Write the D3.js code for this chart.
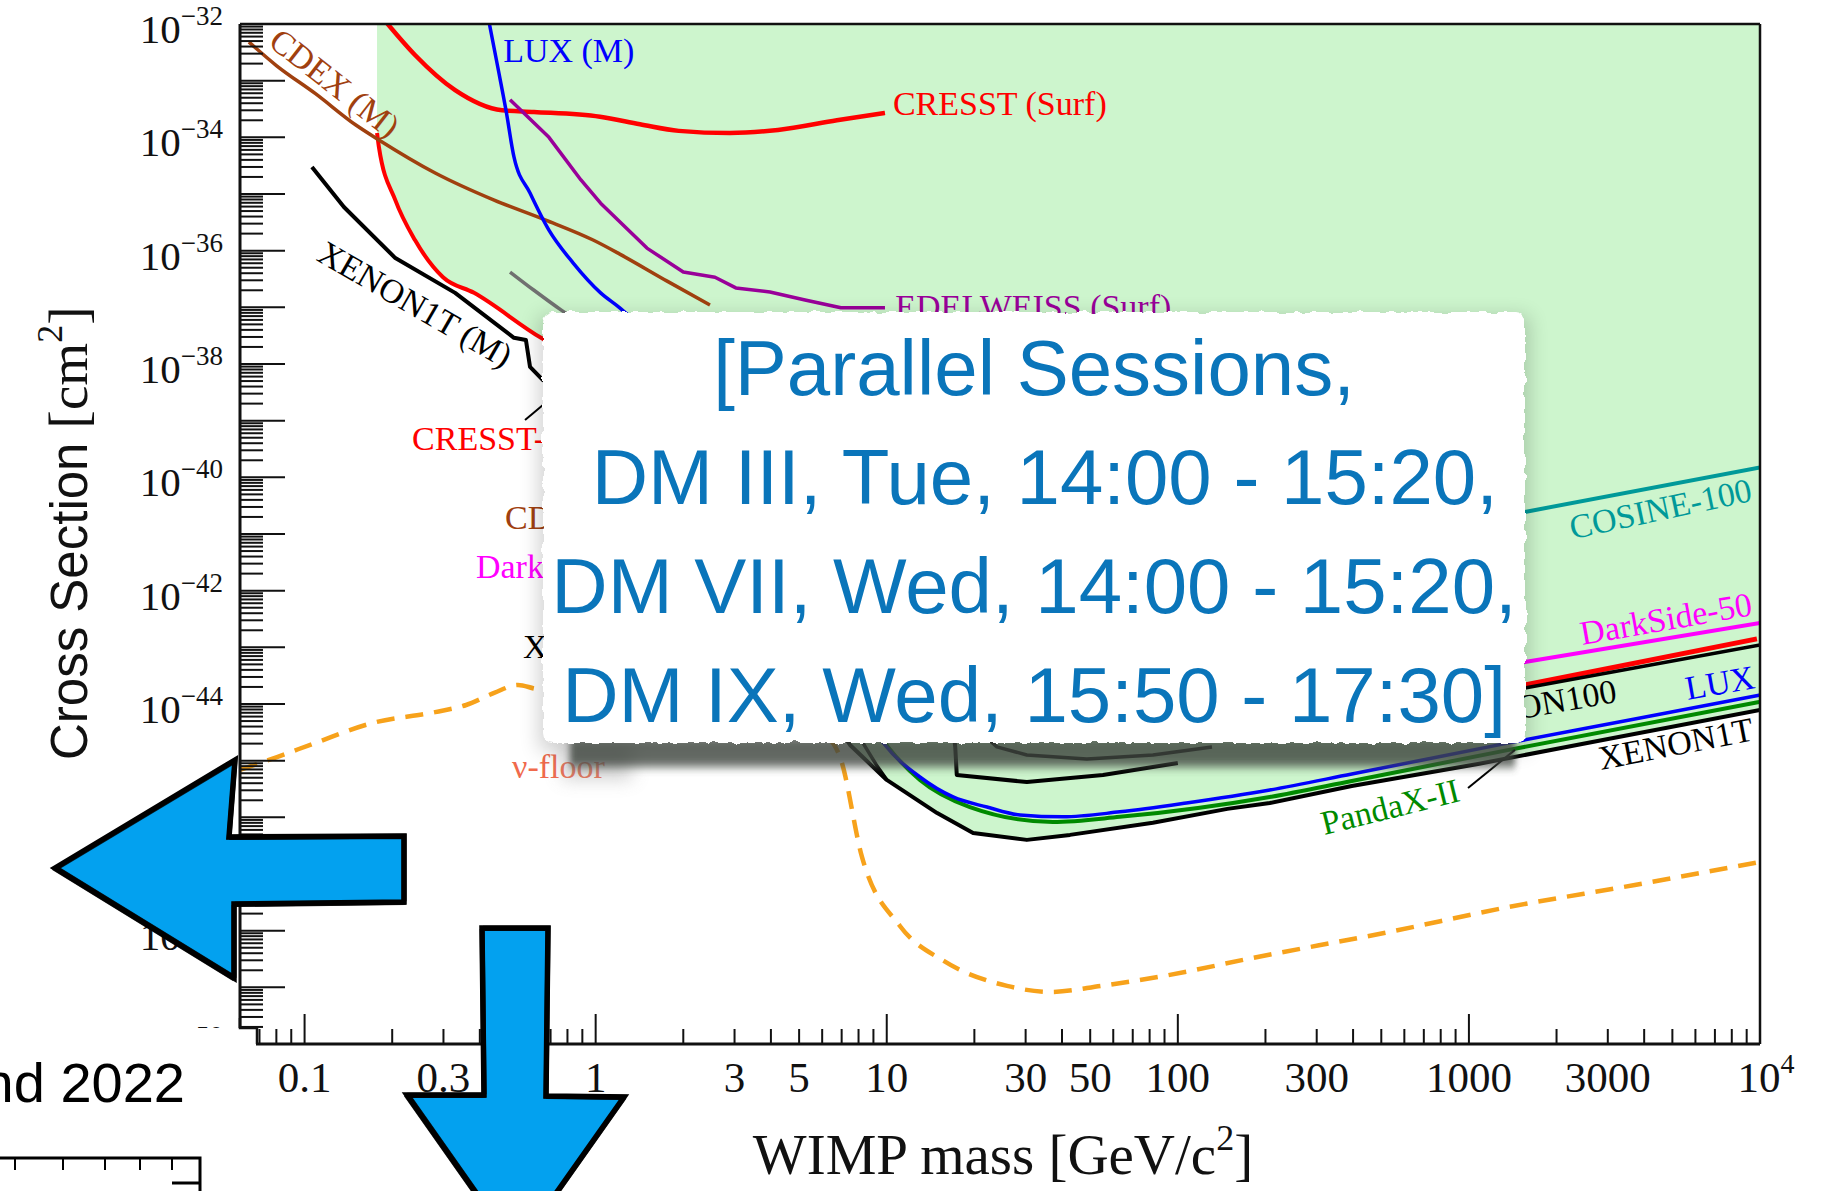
<!DOCTYPE html>
<html>
<head>
<meta charset="utf-8">
<script src="https://cdn.jsdelivr.net/npm/d3@7"></script>
<style>
  html, body { margin: 0; padding: 0; background: #fff; }
  svg { display: block; }
</style>
</head>
<body>
<div id="chart"></div>
<script>
// limits: [WIMP mass GeV/c^2, cross section cm^2]
var cdexM = [[0.0644,4.8e-33],[0.080,1.85e-33],[0.109,5.9e-34],[0.150,1.65e-34],[0.180,9.0e-35],[0.281,2.35e-35],[0.448,7.8e-36],[0.670,3.5e-36],[0.98,1.54e-36],[1.21,8.7e-37],[1.76,2.9e-37],[2.47,1.1e-37]];
var xenon1tM = [[0.106,3.0e-35],[0.1365,5.9e-36],[0.205,7.4e-37],[0.329,1.8e-37],[0.524,2.9e-38],[0.576,2.65e-38],[0.595,8.9e-39],[0.659,5.2e-39],[0.8,3e-39]];
var cresst3 = [[0.1774,1.19e-34],[0.180,6.8e-35],[0.205,7.8e-36],[0.2395,1.54e-36],[0.299,3.4e-37],[0.382,1.8e-37],[0.649,2.9e-38],[0.8,1.6e-38]];
var cresstSurf = [[0.19,1.1e-32],[0.2395,2.84e-33],[0.329,6.8e-34],[0.477,3.0e-34],[0.614,2.8e-34],[1.035,2.3e-34],[1.42,1.7e-34],[1.93,1.3e-34],[2.89,1.19e-34],[4.23,1.35e-34],[6.74,2.0e-34],[9.86,2.7e-34]];
var luxM = [[0.43,1.1e-32],[0.461,1.74e-33],[0.492,3.0e-34],[0.524,4.5e-35],[0.595,1.04e-35],[0.691,2.3e-36],[0.836,6.1e-37],[1.04,1.8e-37],[1.21,9.8e-38],[1.4,5e-38]];
var grayLimit = [[0.508,4.2e-37],[0.614,2.0e-37],[0.76,9.0e-38],[0.9,5e-38]];
var edelweissSurf = [[0.508,4.6e-34],[0.691,1.0e-34],[0.890,1.77e-35],[1.04,6.9e-36],[1.50,1.11e-36],[2.0,4.2e-37],[2.57,3.4e-37],[3.03,2.2e-37],[3.97,1.87e-37],[5.24,1.35e-37],[6.96,9.8e-38],[9.86,9.8e-38]];
var cosine100 = [[1000,1.6e-41],[1557,2.45e-41],[10000,1.5e-40]];
var darkside50 = [[1000,3.8e-44],[1557,5.5e-44],[10000,2.7e-43]];
var redLimit = [[1000,1.38e-44],[1557,2.17e-44],[9760,1.41e-43]];
var xenon100 = [[1000,1.27e-44],[1557,1.92e-44],[10000,1.1e-43]];
var lzA = [[17.0,3e-45],[17.2,1.67e-45],[17.4,5.6e-46],[30.3,4.2e-46],[55.3,5.6e-46],[100,9.1e-46]];
var lzB = [[20,4e-45],[23.9,1.75e-45],[30.3,1.26e-45],[48.7,1.07e-45],[82.1,1.26e-45],[131,1.75e-45]];
var xenon1tB = [[7.0,8e-45],[8.28,2.06e-45],[9.2,8.5e-46],[10.0,4.6e-46]];
var xenon1t = [[6,1e-44],[7.48,1.89e-45],[10.0,4.57e-46],[14.9,1.19e-46],[19.8,5.3e-47],[30.3,4.0e-47],[42.6,4.9e-47],[82.1,8.0e-47],[148,1.41e-46],[207,1.79e-46],[396,3.58e-46],[1074,8.75e-46],[2884,2.32e-45],[10000,7.85e-45]];
var pandax2 = [[8.2,9e-45],[10.1,1.75e-45],[13.0,4.57e-46],[19.3,1.52e-46],[37.2,8.3e-47],[63.2,1.02e-46],[207,2.29e-46],[396,4.39e-46],[1371,1.55e-45],[10000,1.09e-44]];
var lux = [[8,1e-44],[9.86,1.89e-45],[13.0,5.15e-46],[16.9,2.29e-46],[22.1,1.52e-46],[28.7,1.10e-46],[40.3,1.02e-46],[63.2,1.25e-46],[107,1.79e-46],[207,3.04e-46],[396,5.82e-46],[1371,2.06e-45],[3715,5.45e-45],[10000,1.44e-44]];
var nuFloor = [[0.06,6.9e-46],[0.0804,1.16e-45],[0.109,2.06e-45],[0.1706,4.6e-45],[0.281,7.2e-45],[0.359,9.6e-45],[0.448,1.57e-44],[0.541,2.17e-44],[0.624,1.85e-44],[2.0,1.2e-44],[6.0,3e-45],[6.91,1.16e-45],[8.22,2.0e-47],[11.1,1.21e-48],[15.7,2.92e-49],[25.9,1.06e-49],[36.6,8.3e-50],[54.4,1.06e-49],[89.6,1.59e-49],[188,3.44e-49],[511,9.1e-49],[1371,2.62e-48],[3715,6.4e-48],[10000,1.63e-47]];

var xTickLabels = [0.1, 0.3, 0.5, 1, 3, 5, 10, 30, 50, 100, 300, 1000, 3000, 10000];
var yLabelExps = [-32, -34, -36, -38, -40, -42, -44, -46, -48, -50];
var sessionLines = ['[Parallel Sessions,', ' DM III, Tue, 14:00 - 15:20,', 'DM VII, Wed, 14:00 - 15:20,', 'DM IX, Wed, 15:50 - 17:30]'];

var COL = {red: '#ff0000', blue: '#0000ff', brown: '#a0400f', purple: '#990099', gray: '#707070',
    black: '#000', teal: '#009999', magenta: '#ff00ff', green: '#008a00', orange: '#f7a21b',
    coral: '#f06a4c', fill: '#cdf5cd', slide: '#0a75ba', arrow: '#03a1ef'};

var W = 1834, H = 1191;
var margin = {top: 24, right: 74, bottom: 147, left: 240};
var plotW = W - margin.left - margin.right,
    plotH = H - margin.top - margin.bottom;

var x = d3.scaleLog().domain([0.06, 1e4]).range([margin.left, margin.left + plotW]);
var y = d3.scaleLog().domain([1e-50, 1e-32]).range([margin.top + plotH, margin.top]);

var svg = d3.select('#chart').append('svg').attr('width', W).attr('height', H);
var defs = svg.append('defs');
defs.append('clipPath').attr('id', 'plotClip').append('rect')
    .attr('x', margin.left).attr('y', margin.top).attr('width', plotW).attr('height', plotH);
var torn = defs.append('filter').attr('id', 'torn').attr('x', '-3%').attr('y', '-5%').attr('width', '106%').attr('height', '110%');
torn.append('feTurbulence').attr('type', 'fractalNoise').attr('baseFrequency', '0.09').attr('numOctaves', 2).attr('seed', 4).attr('result', 'n');
torn.append('feDisplacementMap').attr('in', 'SourceGraphic').attr('in2', 'n').attr('scale', 7)
    .attr('xChannelSelector', 'R').attr('yChannelSelector', 'G');
defs.append('filter').attr('id', 'soft').attr('x', '-20%').attr('y', '-20%').attr('width', '140%').attr('height', '140%')
    .append('feGaussianBlur').attr('stdDeviation', 10);
defs.append('filter').attr('id', 'band').attr('x', '-10%').attr('y', '-100%').attr('width', '120%').attr('height', '300%')
    .append('feGaussianBlur').attr('stdDeviation', '3 5');
defs.append('filter').attr('id', 'wide').attr('x', '-50%').attr('y', '-50%').attr('width', '200%').attr('height', '200%')
    .append('feGaussianBlur').attr('stdDeviation', 9);

function pt(d) { return [x(d[0]), y(d[1])]; }
var smoothLine = d3.line().curve(d3.curveMonotoneX);
var straightLine = d3.line();

var plot = svg.append('g').attr('clip-path', 'url(#plotClip)');

// excluded region
var redPath = smoothLine(cresst3.map(pt)).replace(/^M/, 'L');
var xePath = straightLine(xenon1t.map(pt)).replace(/^M/, 'L');
plot.append('path')
    .attr('d', 'M' + x(cresst3[0][0]) + ',' + y(1e-32) + redPath + xePath +
        'L' + x(1e4) + ',' + y(1e-32) + 'Z')
    .attr('fill', COL.fill);

var series = [
    {data: cresst3, color: COL.red, w: 4, smooth: true},
    {data: cresstSurf, color: COL.red, w: 4.5, smooth: true},
    {data: cdexM, color: COL.brown, w: 3.5, smooth: true},
    {data: luxM, color: COL.blue, w: 3.5, smooth: true},
    {data: grayLimit, color: COL.gray, w: 3.5, smooth: true},
    {data: edelweissSurf, color: COL.purple, w: 3.5, smooth: false},
    {data: xenon1tM, color: COL.black, w: 4, smooth: false},
    {data: cosine100, color: COL.teal, w: 4, smooth: false},
    {data: darkside50, color: COL.magenta, w: 4, smooth: false},
    {data: redLimit, color: COL.red, w: 5, smooth: false},
    {data: xenon100, color: COL.black, w: 3.5, smooth: false},
    {data: lzA, color: COL.black, w: 4, smooth: false},
    {data: lzB, color: COL.black, w: 3.5, smooth: false},
    {data: xenon1tB, color: COL.black, w: 3.5, smooth: false},
    {data: xenon1t, color: COL.black, w: 4, smooth: false},
    {data: pandax2, color: COL.green, w: 4, smooth: true},
    {data: lux, color: COL.blue, w: 3.5, smooth: true},
    {data: nuFloor, color: COL.orange, w: 4.5, smooth: true, dash: '18,11'}
];

plot.selectAll('path.limit').data(series).join('path')
    .attr('class', 'limit')
    .attr('d', function (s) { return (s.smooth ? smoothLine : straightLine)(s.data.map(pt)); })
    .attr('fill', 'none')
    .attr('stroke', function (s) { return s.color; })
    .attr('stroke-width', function (s) { return s.w; })
    .attr('stroke-dasharray', function (s) { return s.dash || null; })
    .attr('stroke-linejoin', 'round');

var leaders = [[[0.572, 1.03e-39], [0.659, 1.89e-39]], [[993, 3.3e-46], [1439, 1.55e-45]]];
plot.selectAll('path.leader').data(leaders).join('path')
    .attr('class', 'leader')
    .attr('d', function (d) { return straightLine(d.map(pt)); })
    .attr('stroke', '#000').attr('stroke-width', 2);

var curveLabels = [
    {text: 'CDEX (M)', m: 0.120, s: 6.3e-34, rot: 38, anchor: 'middle', color: COL.brown},
    {text: 'XENON1T (M)', m: 0.229, s: 7.6e-38, rot: 30, anchor: 'middle', color: COL.black},
    {text: 'LUX (M)', m: 0.481, s: 2.13e-33, rot: 0, anchor: 'start', color: COL.blue},
    {text: 'CRESST (Surf)', m: 10.5, s: 2.48e-34, rot: 0, anchor: 'start', color: COL.red},
    {text: 'EDELWEISS (Surf)', m: 10.7, s: 6.5e-38, rot: 0, anchor: 'start', color: COL.purple},
    {text: 'CRESST-III', m: 0.234, s: 3.0e-40, rot: 0, anchor: 'start', color: COL.red},
    {text: 'CDEX-10', m: 0.488, s: 1.23e-41, rot: 0, anchor: 'start', color: COL.brown},
    {text: 'DarkSide-50', m: 0.388, s: 1.67e-42, rot: 0, anchor: 'start', color: COL.magenta},
    {text: 'XENON1T', m: 0.563, s: 6.5e-44, rot: 0, anchor: 'start', color: COL.black},
    {text: '\u03bd-floor', m: 0.516, s: 4.95e-46, rot: 0, anchor: 'start', color: COL.coral},
    {text: 'COSINE-100', m: 4637, s: 1.77e-41, rot: -12, anchor: 'middle', color: COL.teal},
    {text: 'DarkSide-50', m: 4827, s: 2.02e-43, rot: -10, anchor: 'middle', color: COL.magenta},
    {text: 'XENON100', m: 3251, s: 1.09e-44, rot: -10, anchor: 'end', color: COL.black},
    {text: 'LUX', m: 7396, s: 1.5e-44, rot: -10, anchor: 'middle', color: COL.blue},
    {text: 'XENON1T', m: 5224, s: 1.26e-45, rot: -11, anchor: 'middle', color: COL.black},
    {text: 'PandaX-II', m: 548, s: 9.75e-47, rot: -14, anchor: 'middle', color: COL.green}
];
plot.selectAll('text.clab').data(curveLabels).join('text')
    .attr('class', 'clab')
    .attr('transform', function (d) { return 'translate(' + x(d.m) + ',' + y(d.s) + ') rotate(' + d.rot + ')'; })
    .attr('text-anchor', function (d) { return d.anchor; })
    .attr('font-family', '"Liberation Serif", "Times New Roman", serif')
    .attr('font-size', 34)
    .attr('fill', function (d) { return d.color; })
    .text(function (d) { return d.text; });

// frame and ticks
var axes = svg.append('g').attr('stroke', '#111');
var x0 = margin.left, x1 = margin.left + plotW, y0 = margin.top, y1 = margin.top + plotH;
axes.append('line').attr('x1', x0).attr('x2', x1).attr('y1', y0).attr('y2', y0).attr('stroke-width', 2.5);
axes.append('line').attr('x1', x1).attr('x2', x1).attr('y1', y0).attr('y2', y1).attr('stroke-width', 2.5);
axes.append('line').attr('x1', x0).attr('x2', x0).attr('y1', y0).attr('y2', y1).attr('stroke-width', 3);
axes.append('line').attr('x1', x0).attr('x2', x1).attr('y1', y1).attr('y2', y1).attr('stroke-width', 3);

function isDecade(v) { var l = Math.log10(v); return Math.abs(l - Math.round(l)) < 1e-9; }

var xt = x.ticks().filter(function (v) { return x(v) > x0 + 2; });
axes.selectAll('line.xt').data(xt).join('line')
    .attr('x1', function (d) { return x(d); }).attr('x2', function (d) { return x(d); })
    .attr('y1', y1).attr('y2', function (d) { return y1 - (isDecade(d) ? 30 : 15); })
    .attr('stroke-width', 2);

var yt = [];
for (var e = -50; e < -32; e++) for (var k = 1; k < 10; k++) yt.push(k * Math.pow(10, e));
axes.selectAll('line.yt').data(yt.filter(function (v) { return y(v) < y1 - 1; })).join('line')
    .attr('y1', function (d) { return y(d); }).attr('y2', function (d) { return y(d); })
    .attr('x1', x0).attr('x2', function (d) { return x0 + (isDecade(d) ? 45 : 23); })
    .attr('stroke-width', 2);

var serif = '"Liberation Serif", "Times New Roman", serif';
var sans = '"Liberation Sans", Arial, Helvetica, sans-serif';

svg.append('g').selectAll('text').data(xTickLabels).join('text')
    .attr('x', function (d) { return x(d) + (d === 1e4 ? 6 : 0); })
    .attr('y', y1 + 48)
    .attr('text-anchor', 'middle')
    .attr('font-family', serif).attr('font-size', 43).attr('fill', '#111')
    .each(function (d) {
        var t = d3.select(this);
        if (d === 1e4) {
            t.append('tspan').text('10');
            t.append('tspan').attr('dy', -19).attr('font-size', 28).text('4');
        } else {
            t.text(String(d));
        }
    });

svg.append('g').selectAll('text').data(yLabelExps).join('text')
    .attr('x', x0 - 17)
    .attr('y', function (d) { return y(Math.pow(10, d)) + 19; })
    .attr('text-anchor', 'end')
    .attr('font-family', serif).attr('font-size', 41).attr('fill', '#111')
    .each(function (d) {
        var t = d3.select(this);
        t.append('tspan').text('10');
        t.append('tspan').attr('dy', -18).attr('font-size', 27).text('\u2212' + Math.abs(d));
    });

var xt2 = svg.append('text').attr('x', (x0 + x1) / 2 + 3).attr('y', y1 + 130)
    .attr('text-anchor', 'middle').attr('font-family', serif).attr('font-size', 57).attr('fill', '#111');
xt2.append('tspan').text('WIMP mass [GeV/c');
xt2.append('tspan').attr('dy', -24).attr('font-size', 36).text('2');
xt2.append('tspan').attr('dy', 24).text(']');

var yt2 = svg.append('text').attr('transform', 'translate(87,760) rotate(-90)')
    .attr('fill', '#111').attr('font-size', 51);
yt2.append('tspan').attr('font-family', sans).text('Cross Section ');
yt2.append('tspan').attr('font-family', serif).attr('font-size', 55).text('[cm');
yt2.append('tspan').attr('font-family', serif).attr('font-size', 36).attr('dy', -25).text('2');
yt2.append('tspan').attr('font-family', serif).attr('font-size', 55).attr('dy', 25).text(']');

// slide overlay box
var box = {x: 543, y: 312, w: 982, h: 431};
svg.append('rect').attr('x', box.x - 4).attr('y', box.y + 4).attr('width', box.w + 8).attr('height', box.h + 4)
    .attr('fill', '#000').attr('opacity', 0.18).attr('filter', 'url(#soft)');
svg.append('rect').attr('x', 562).attr('y', box.y + box.h - 4).attr('width', 70).attr('height', 40)
    .attr('fill', '#999').attr('opacity', 0.45).attr('filter', 'url(#wide)');
svg.append('rect').attr('x', 570).attr('y', box.y + box.h - 6).attr('width', 945).attr('height', 30)
    .attr('fill', '#3f473f').attr('opacity', 0.8).attr('filter', 'url(#band)');
svg.append('rect').attr('x', box.x).attr('y', box.y).attr('width', box.w).attr('height', box.h)
    .attr('rx', 10).attr('fill', '#fff').attr('filter', 'url(#torn)');
svg.append('g').selectAll('text').data(sessionLines).join('text')
    .attr('x', box.x + box.w / 2).attr('y', function (d, i) { return 395 + i * 109; })
    .attr('text-anchor', 'middle').attr('font-family', sans).attr('font-size', 78)
    .attr('fill', COL.slide).style('white-space', 'pre')
    .text(function (d) { return d; });

// pasted piece of another slide, lower left
svg.append('rect').attr('x', 0).attr('y', 1028).attr('width', 256).attr('height', H - 1028).attr('fill', '#fff');
svg.append('path').attr('d', 'M240,1018V1028H257V1044').attr('fill', 'none').attr('stroke', '#111').attr('stroke-width', 2.5);
svg.append('text').attr('x', 185).attr('y', 1102).attr('text-anchor', 'end')
    .attr('font-family', sans).attr('font-size', 56).attr('fill', '#000').text('and 2022');
var frag = svg.append('g').attr('stroke', '#000').attr('stroke-width', 3).attr('fill', 'none');
frag.append('path').attr('d', 'M0,1158H200V1191M172,1183H200');
frag.selectAll('line').data([15, 63, 105, 140, 172]).join('line')
    .attr('x1', function (d) { return d; }).attr('x2', function (d) { return d; })
    .attr('y1', 1158).attr('y2', 1170).attr('stroke-width', 2);

// hand drawn arrows
function drawArrow(pts) {
    var closed = d3.line().curve(d3.curveLinearClosed);
    var g = svg.append('g');
    g.append('path').attr('d', closed(pts)).attr('fill', COL.arrow)
        .attr('stroke', '#000').attr('stroke-width', 5.5).attr('stroke-linejoin', 'miter');
    [[1.8, -1.5], [-1.6, 1.7], [1.0, 2.3]].forEach(function (o) {
        g.append('path').attr('d', closed(pts)).attr('transform', 'translate(' + o + ')')
            .attr('fill', 'none').attr('stroke', '#000').attr('stroke-width', 1.6).attr('opacity', 0.8);
    });
}
drawArrow([[55, 868], [235, 760], [229, 837], [404, 836], [404, 902], [234, 904], [234, 978]]);
drawArrow([[482, 928], [548, 928], [546, 1096], [624, 1097], [516, 1250], [407, 1095], [484, 1095]]);
</script>
</body>
</html>
